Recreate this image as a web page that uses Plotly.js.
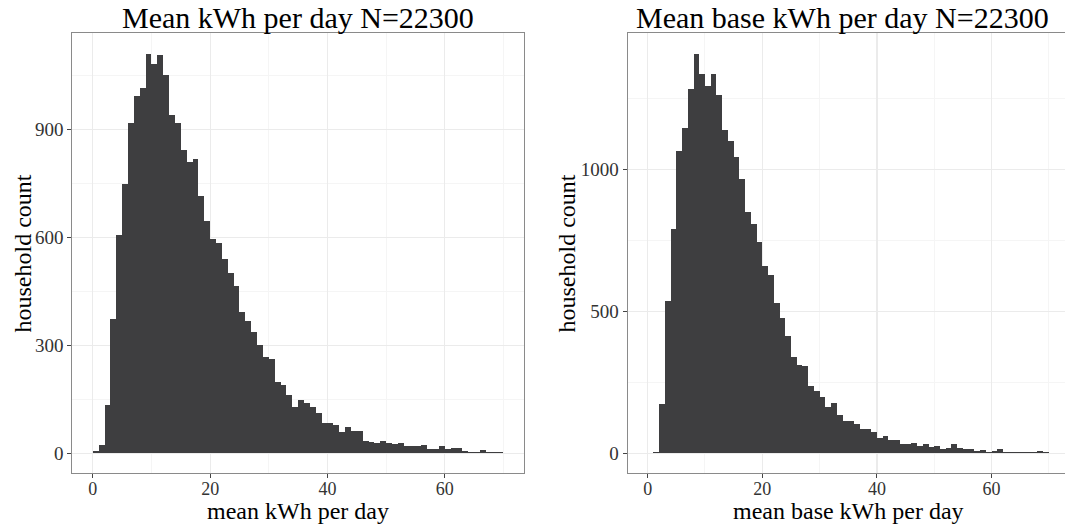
<!DOCTYPE html>
<html>
<head>
<meta charset="utf-8">
<script src="https://cdn.plot.ly/plotly-3.0.1.min.js"></script>
<style>
html, body { margin: 0; padding: 0; overflow: hidden; background: #fff; }
#chart { width: 1070px; height: 525px; }
</style>
</head>
<body>
<div id="chart"></div>
<script>
// Bin centres (kWh per day), bins are 1 kWh wide from 0 to 70
const binCenters = [0.5,1.5,2.5,3.5,4.5,5.5,6.5,7.5,8.5,9.5,10.5,11.5,12.5,13.5,14.5,15.5,16.5,17.5,18.5,19.5,
  20.5,21.5,22.5,23.5,24.5,25.5,26.5,27.5,28.5,29.5,30.5,31.5,32.5,33.5,34.5,35.5,36.5,37.5,38.5,39.5,
  40.5,41.5,42.5,43.5,44.5,45.5,46.5,47.5,48.5,49.5,50.5,51.5,52.5,53.5,54.5,55.5,56.5,57.5,58.5,59.5,
  60.5,61.5,62.5,63.5,64.5,65.5,66.5,67.5,68.5,69.5];

// Mean kWh per day – household counts
const meanCounts = [6,24,133,372,608,750,917,994,1016,1111,
  1083,1108,1053,941,917,842,809,819,715,647,
  597,586,539,500,464,394,369,338,302,269,
  263,199,191,163,130,149,141,129,113,83,
  85,80,58,72,63,63,35,32,30,35,
  30,27,30,19,21,21,24,13,13,19,
  13,16,16,7,5,5,10,5,5,5];

// Mean base kWh per day – household counts
const baseCounts = [0,4,175,537,790,1064,1145,1282,1405,1335,
  1293,1335,1261,1138,1099,1043,966,849,807,744,
  659,628,530,477,414,340,312,308,238,220,
  199,164,178,136,112,112,104,87,87,76,
  55,62,48,48,31,34,38,27,31,23,
  27,16,20,34,20,16,16,9,13,6,
  9,16,6,6,6,3,6,6,9,3];

const titles = ["Mean kWh per day N=22300", "Mean base kWh per day N=22300"];
const xTitles = ["mean kWh per day", "mean base kWh per day"];
const yTitle = "household count";
const xTicks = [0, 20, 40, 60];
const yTicksLeft = [0, 300, 600, 900];
const yTicksRight = [0, 500, 1000];

const barColor = "#3e3e40";
const font = "Liberation Serif, Times New Roman, serif";

const W = 1070, H = 525;
const yDom = [51.7 / H, 491.7 / H];

function xAxis(domain, anchor) {
  return {
    domain: domain, anchor: anchor, range: [-3.5, 73.5],
    tickvals: xTicks, ticks: "outside", ticklen: 4, tickcolor: "#444", tickwidth: 1,
    showline: true, mirror: true, linecolor: "#8a8a8a", linewidth: 1,
    showgrid: true, gridcolor: "#ebebeb", gridwidth: 1.2, zeroline: false,
    minor: { dtick: 10, tick0: 0, showgrid: true, gridcolor: "#f5f5f5", gridwidth: 1, ticklen: 0 },
    tickfont: { family: font, size: 18, color: "#333" }, ticklabelstandoff: -5,
    automargin: false, fixedrange: true
  };
}
function yAxis(anchor, range, ticks, minorDtick) {
  return {
    domain: yDom, anchor: anchor, range: range,
    tickvals: ticks, ticks: "outside", ticklen: 4, tickcolor: "#444", tickwidth: 1,
    showline: true, mirror: true, linecolor: "#8a8a8a", linewidth: 1,
    showgrid: true, gridcolor: "#ebebeb", gridwidth: 1.2, zeroline: false,
    minor: { dtick: minorDtick, tick0: 0, showgrid: true, gridcolor: "#f5f5f5", gridwidth: 1, ticklen: 0 },
    tickfont: { family: font, size: 19, color: "#333" },
    automargin: false, fixedrange: true
  };
}

const traces = [
  { type: "bar", x: binCenters, y: meanCounts, width: 1, xaxis: "x", yaxis: "y",
    marker: { color: barColor, line: { width: 0 } }, hoverinfo: "x+y" },
  { type: "bar", x: binCenters, y: baseCounts, width: 1, xaxis: "x2", yaxis: "y2",
    marker: { color: barColor, line: { width: 0 } }, hoverinfo: "x+y" }
];

const leftDom = [72.3 / W, 524 / W];
const rightDom = [627.6 / W, 1069 / W];

function ann(text, xpx, ypx, size, angle) {
  return { text: text, xref: "paper", yref: "paper", x: xpx / W, y: 1 - ypx / H,
    xanchor: "center", yanchor: "middle", showarrow: false, textangle: angle || 0,
    font: { family: font, size: size, color: "#000" } };
}

const layout = {
  width: W, height: H,
  margin: { l: 0, r: 0, t: 0, b: 0 },
  paper_bgcolor: "#fff", plot_bgcolor: "#fff",
  showlegend: false, bargap: 0,
  font: { family: font, color: "#000" },
  xaxis: xAxis(leftDom, "y"),
  yaxis: yAxis("x", [-55.6, 1167.6], yTicksLeft, 150),
  xaxis2: xAxis(rightDom, "y2"),
  yaxis2: yAxis("x2", [-70.4, 1478.4], yTicksRight, 250),
  annotations: [
    ann(titles[0], 298.3, 17, 30),
    ann(titles[1], 842.5, 17, 30),
    ann(xTitles[0], 298.3, 511, 24),
    ann(xTitles[1], 848.3, 511, 24),
    ann(yTitle, 22, 253.5, 24, -90),
    ann(yTitle, 566, 253.5, 24, -90)
  ]
};

Plotly.newPlot("chart", traces, layout, { displayModeBar: false, staticPlot: true });
</script>
</body>
</html>
